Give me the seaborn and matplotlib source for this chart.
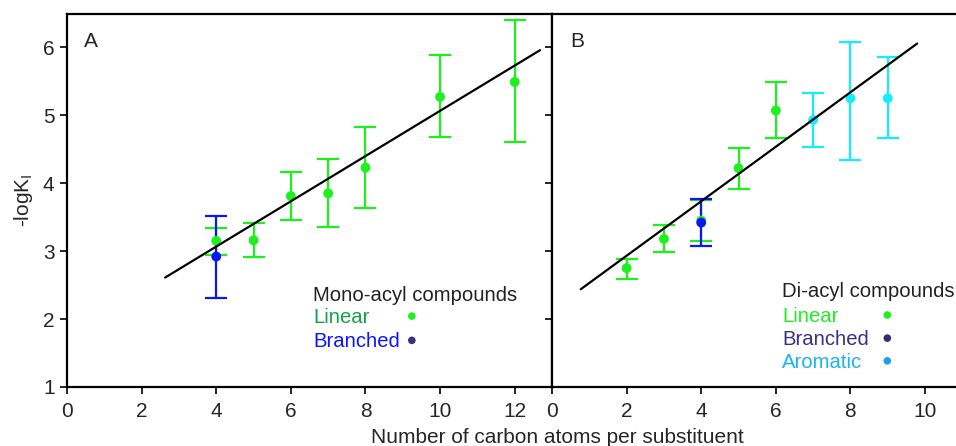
import numpy as np
import pandas as pd
import seaborn as sns
import matplotlib.pyplot as plt

# Panel A: mono-acyl compounds
mono_lin_x = [4, 5, 6, 7, 8, 10, 12]
mono_lin_y = [3.15, 3.16, 3.81, 3.85, 4.23, 5.27, 5.49]
mono_lin_lo = [2.94, 2.92, 3.46, 3.35, 3.63, 4.68, 4.60]
mono_lin_hi = [3.34, 3.41, 4.16, 4.35, 4.82, 5.88, 6.40]
mono_br_x = [4]
mono_br_y = [2.92]
mono_br_lo = [2.31]
mono_br_hi = [3.51]
mono_fit = (0.333, 1.735, 2.63, 12.68)  # slope, intercept, x start, x end

# Panel B: di-acyl compounds
di_lin_x = [2, 3, 4, 5, 6]
di_lin_y = [2.75, 3.18, 3.45, 4.22, 5.07]
di_lin_lo = [2.59, 2.98, 3.15, 3.92, 4.66]
di_lin_hi = [2.89, 3.38, 3.75, 4.52, 5.49]
di_br_x = [4]
di_br_y = [3.42]
di_br_lo = [3.07]
di_br_hi = [3.77]
di_aro_x = [7, 8, 9]
di_aro_y = [4.93, 5.25, 5.25]
di_aro_lo = [4.53, 4.34, 4.66]
di_aro_hi = [5.32, 6.08, 5.85]
di_fit = (0.401, 2.13, 0.77, 9.79)

sns.set_style("ticks")
plt.rcParams['font.family'] = ['Liberation Sans', 'DejaVu Sans']

GREEN = "#1ef01e"
BLUE = "#0a14ff"
CYAN = "#14ecff"

fig = plt.figure(figsize=(9.56, 4.46), dpi=100)
axA = fig.add_axes([0.0701, 0.1323, 0.5073, 0.8363])
axB = fig.add_axes([0.5774, 0.1323, 0.4226, 0.8363])


def draw_series(ax, x, y, lo, hi, color):
    y = np.array(y)
    err = [y - np.array(lo), np.array(hi) - y]
    ax.errorbar(x, y, yerr=err, fmt='none', ecolor=color, elinewidth=1.6,
                capsize=8, capthick=1.6, zorder=2)
    sns.scatterplot(x=x, y=y, ax=ax, color=color, s=50, edgecolor='none',
                    zorder=3, legend=False)


def draw_fit(ax, fit):
    k, b, x0, x1 = fit
    xs = np.array([x0, x1])
    sns.lineplot(x=xs, y=k * xs + b, ax=ax, color='black', lw=1.6, zorder=4)


draw_series(axA, mono_lin_x, mono_lin_y, mono_lin_lo, mono_lin_hi, GREEN)
draw_series(axA, mono_br_x, mono_br_y, mono_br_lo, mono_br_hi, BLUE)
draw_fit(axA, mono_fit)

draw_series(axB, di_lin_x, di_lin_y, di_lin_lo, di_lin_hi, GREEN)
draw_series(axB, di_br_x, di_br_y, di_br_lo, di_br_hi, BLUE)
draw_series(axB, di_aro_x, di_aro_y, di_aro_lo, di_aro_hi, CYAN)
draw_fit(axB, di_fit)

for ax in (axA, axB):
    ax.set_ylim(1, 6.49)
    ax.set_yticks([1, 2, 3, 4, 5, 6])
    ax.tick_params(labelsize=15, width=1.2, length=5, color='black', pad=4)
    ax.tick_params(axis='x', pad=6)
    for s in ax.spines.values():
        s.set_linewidth(1.6)
        s.set_color('black')

axA.set_xlim(0, 13)
axA.set_xticks([0, 2, 4, 6, 8, 10, 12])
axA.set_ylabel("-logK$_\\mathregular{I}$", fontsize=15, labelpad=6)

axB.set_xlim(0, 10.83)
axB.set_xticks([0, 2, 4, 6, 8, 10])
axB.tick_params(axis='y', labelleft=False)
axB.spines['right'].set_visible(False)

axA.text(0.035, 0.925, "A", transform=axA.transAxes, fontsize=15, va='center')
axB.text(0.045, 0.925, "B", transform=axB.transAxes, fontsize=15, va='center')

# legends drawn as text blocks
fs = 14.6
axA.text(0.508, 0.246, "Mono-acyl compounds", transform=axA.transAxes, fontsize=fs, color='#222222', va='center')
axA.text(0.508, 0.186, "Linear", transform=axA.transAxes, fontsize=fs, color='#16a04a', va='center')
axA.text(0.508, 0.123, "Branched", transform=axA.transAxes, fontsize=fs, color=BLUE, va='center')
axA.scatter([0.711], [0.19], transform=axA.transAxes, s=30, color=GREEN, edgecolor='none')
axA.scatter([0.711], [0.125], transform=axA.transAxes, s=30, color='#333380', edgecolor='none')

axB.text(0.57, 0.255, "Di-acyl compounds", transform=axB.transAxes, fontsize=fs, color='#222222', va='center')
axB.text(0.57, 0.19, "Linear", transform=axB.transAxes, fontsize=fs, color=GREEN, va='center')
axB.text(0.57, 0.128, "Branched", transform=axB.transAxes, fontsize=fs, color='#3a2f8a', va='center')
axB.text(0.57, 0.067, "Aromatic", transform=axB.transAxes, fontsize=fs, color='#18b4f0', va='center')
axB.scatter([0.83], [0.193], transform=axB.transAxes, s=30, color=GREEN, edgecolor='none')
axB.scatter([0.83], [0.131], transform=axB.transAxes, s=30, color='#332a7a', edgecolor='none')
axB.scatter([0.83], [0.07], transform=axB.transAxes, s=30, color='#18a0e8', edgecolor='none')

fig.text(0.583, 0.02, "Number of carbon atoms per substituent", ha='center', va='center', fontsize=15)

fig.savefig("out.png", dpi=100)
